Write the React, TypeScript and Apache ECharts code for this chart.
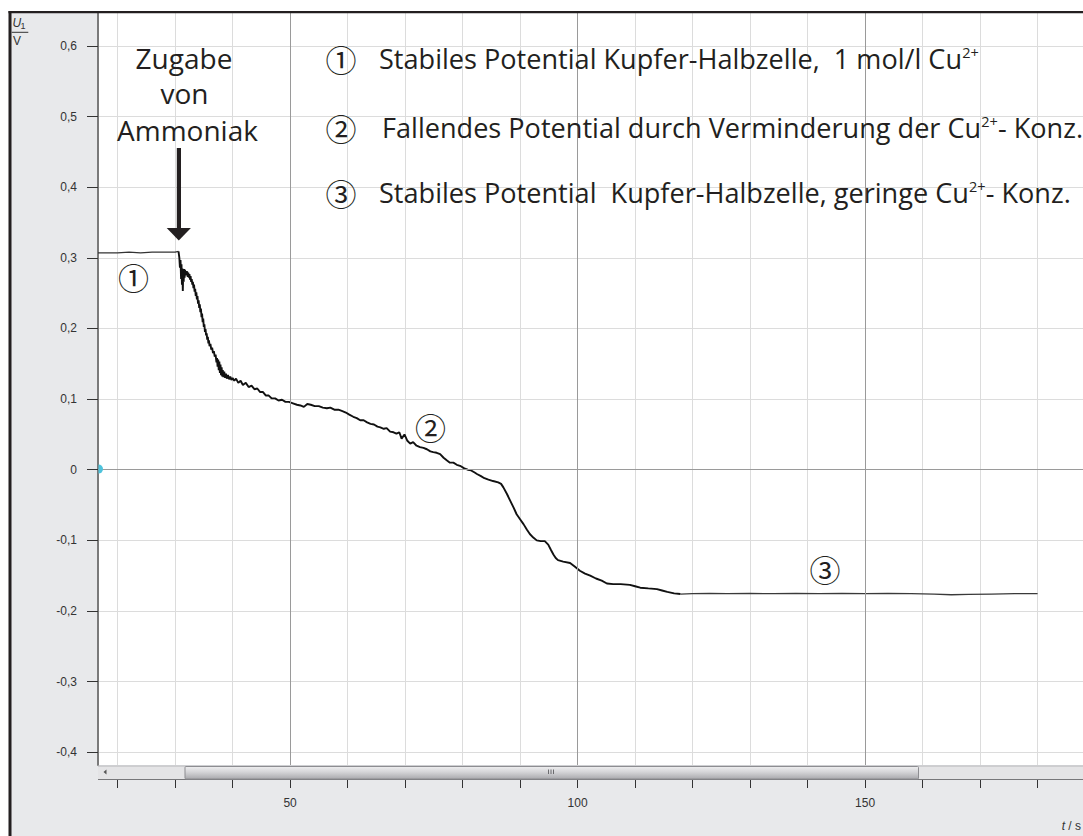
import React, { useEffect, useRef } from "react";
import * as echarts from "echarts";

// ---- axis ranges & ticks ----
const X_MIN = 16.6;
const X_MAX = 187.9;
const Y_MIN = -0.418;
const Y_MAX = 0.648;
const xTickValues = [20, 30, 40, 50, 60, 70, 80, 90, 100, 110, 120, 130, 140, 150, 160, 170, 180];
const xLabelValues = [50, 100, 150];
const yTickValues = [-0.4, -0.3, -0.2, -0.1, 0, 0.1, 0.2, 0.3, 0.4, 0.5, 0.6];
const majorX = [50, 100, 150];
const majorY = [0];

// ---- measured data: t / s, U1 / V ----
const stablePhase: [number, number][] = [
  [16.6, 0.307], [18, 0.307], [20, 0.307], [22, 0.308], [24, 0.307], [26, 0.308],
  [28, 0.308], [30, 0.308], [30.6, 0.309],
];
const fallingPhase: [number, number][] = [
  [30.75, 0.300], [30.85, 0.286], [30.95, 0.297], [31.05, 0.270], [31.12, 0.291], [31.2, 0.262],
  [31.28, 0.285], [31.35, 0.253], [31.42, 0.280], [31.5, 0.266], [31.58, 0.284], [31.66, 0.272],
  [31.74, 0.283], [31.82, 0.275], [31.9, 0.281], [32.0, 0.276], [32.1, 0.281], [32.2, 0.273],
  [32.3, 0.279], [32.4, 0.272], [32.5, 0.277], [32.6, 0.269], [32.7, 0.274], [32.8, 0.266],
  [32.9, 0.270], [33.0, 0.262], [33.1, 0.266], [33.2, 0.257], [33.3, 0.262], [33.4, 0.252],
  [33.5, 0.256], [33.6, 0.246], [33.7, 0.251], [33.8, 0.241], [33.9, 0.246], [34.0, 0.235],
  [34.1, 0.240], [34.2, 0.229], [34.3, 0.234], [34.4, 0.223], [34.5, 0.228], [34.6, 0.216],
  [34.7, 0.221], [34.8, 0.209], [34.9, 0.214], [35.0, 0.202], [35.1, 0.206], [35.2, 0.195],
  [35.3, 0.199], [35.4, 0.190], [35.5, 0.193], [35.6, 0.184], [35.7, 0.188], [35.8, 0.179],
  [35.9, 0.183], [36.0, 0.175], [36.15, 0.178], [36.3, 0.170], [36.45, 0.173], [36.6, 0.165],
  [36.75, 0.168], [36.9, 0.160], [37.05, 0.163], [37.2, 0.152], [37.3, 0.158], [37.4, 0.146],
  [37.5, 0.156], [37.6, 0.141], [37.7, 0.153], [37.8, 0.137], [37.9, 0.149], [38.0, 0.134],
  [38.1, 0.145], [38.2, 0.132], [38.3, 0.141], [38.4, 0.131], [38.55, 0.139], [38.7, 0.130],
  [38.85, 0.136], [39.0, 0.129], [39.2, 0.134], [39.4, 0.128], [39.6, 0.132], [39.8, 0.127],
  [40.0, 0.130], [40.3, 0.126], [40.6, 0.129], [41.0, 0.123], [41.4, 0.126], [41.8, 0.120],
  [42.3, 0.123], [42.8, 0.117], [43.3, 0.119], [43.8, 0.114], [44.3, 0.115], [44.8, 0.110],
  [45.3, 0.110], [45.8, 0.105], [46.3, 0.105], [46.8, 0.101], [47.4, 0.101], [48.0, 0.098],
  [48.6, 0.099], [49.2, 0.096], [49.8, 0.096], [50.5, 0.094], [51.2, 0.092], [51.8, 0.091],
  [52.4, 0.089], [53.0, 0.093], [53.6, 0.092], [54.3, 0.090], [55.0, 0.090], [55.7, 0.088],
  [56.4, 0.087], [57.0, 0.088], [57.7, 0.085], [58.4, 0.085], [59.1, 0.083], [59.7, 0.081],
  [60.3, 0.078], [61.0, 0.075], [61.6, 0.073], [62.2, 0.070], [62.8, 0.070], [63.4, 0.067],
  [64.0, 0.065], [64.6, 0.064], [65.2, 0.061], [65.7, 0.060], [66.3, 0.058], [66.8, 0.059],
  [67.4, 0.054], [68.0, 0.053], [68.5, 0.051], [69.0, 0.053], [69.4, 0.044], [69.9, 0.050],
  [70.4, 0.041], [70.9, 0.037], [71.4, 0.039], [72.0, 0.034], [72.6, 0.032], [73.2, 0.031],
  [73.8, 0.029], [74.4, 0.026], [74.9, 0.025], [75.5, 0.024], [76.1, 0.022], [76.7, 0.017],
  [77.3, 0.013], [77.8, 0.010], [78.4, 0.010], [79.0, 0.007], [79.7, 0.005], [80.3, 0.002],
  [80.9, 0.000], [81.5, -0.001], [82.1, -0.004], [82.5, -0.006], [83.2, -0.009], [83.8, -0.012],
  [84.5, -0.014], [85.3, -0.016], [86.2, -0.018], [86.7, -0.020], [87.1, -0.025], [87.7, -0.034],
  [88.3, -0.044], [88.9, -0.054], [89.4, -0.063], [90.0, -0.070], [90.6, -0.077], [91.2, -0.085],
  [91.7, -0.091], [92.3, -0.096], [92.9, -0.100], [93.6, -0.101], [94.3, -0.101], [94.9, -0.106],
  [95.4, -0.114], [95.8, -0.120], [96.2, -0.125], [96.6, -0.128], [97.5, -0.130], [98.7, -0.132],
  [99.5, -0.137], [100.4, -0.143], [101.3, -0.147], [102.2, -0.150], [103.2, -0.154], [104.2, -0.157],
  [105.1, -0.161], [106.2, -0.162], [107.5, -0.162], [109.1, -0.163], [110.0, -0.165], [110.9, -0.167],
  [112.3, -0.168], [113.8, -0.169], [114.7, -0.171], [115.6, -0.173], [116.8, -0.175], [117.9, -0.176],
];
const lowPhase: [number, number][] = [
  [120, -0.1755], [123, -0.175], [126, -0.1755], [130, -0.175], [134, -0.1755], [138, -0.175],
  [142, -0.1755], [146, -0.175], [150, -0.1755], [154, -0.175], [158, -0.1755], [162, -0.176],
  [165, -0.177], [168, -0.1765], [172, -0.176], [176, -0.1755], [180, -0.1755],
];

// ---- texts ----
const arrowLabel = ["Zugabe", "von", "Ammoniak"];
const legendNumbers = ["①", "②", "③"];
const legendLines = [
  ["Stabiles Potential Kupfer-Halbzelle,  1 mol/l Cu", "2+", ""],
  ["Fallendes Potential durch Verminderung der Cu", "2+", "- Konz."],
  ["Stabiles Potential  Kupfer-Halbzelle, geringe Cu", "2+", "- Konz."],
];

const FONT = "'Open Sans', 'Noto Sans', sans-serif";
const CIRC = "'Noto Sans CJK JP', 'DejaVu Sans', sans-serif";
const AXFONT = "'Liberation Sans', Arial, sans-serif";
const INK = "#231f20";

function fmtY(v: number) {
  if (Math.abs(v) < 1e-9) return "0";
  return v.toFixed(1).replace(".", ",");
}

export default function App() {
  const ref = useRef<HTMLDivElement>(null);

  useEffect(() => {
    if (!ref.current) return;
    const chart = echarts.init(ref.current, undefined, { renderer: "svg" });

    const legendY = [58.5, 127, 192];
    const legendX = [379, 382, 379];
    const arrowLabelPos = [
      [184, 57.5],
      [184.5, 93],
      [187.5, 130],
    ];
    const curveNumPos = [
      [133.5, 276],
      [430.5, 426],
      [825, 568],
    ];

    const graphics: any[] = [
      // grey panel
      { type: "rect", z: -10, silent: true, shape: { x: 10, y: 12, width: 88, height: 824 }, style: { fill: "#e8e9eb" } },
      { type: "rect", z: -10, silent: true, shape: { x: 98, y: 765, width: 985, height: 71 }, style: { fill: "#e8e9eb" } },
      // frame
      { type: "rect", z: 30, silent: true, shape: { x: 8.5, y: 11, width: 3, height: 825 }, style: { fill: "#231f20" } },
      { type: "rect", z: 30, silent: true, shape: { x: 8.5, y: 11, width: 1075, height: 2.2 }, style: { fill: "#231f20" } },
      // scrollbar track
      { type: "rect", z: 5, silent: true, shape: { x: 98, y: 766, width: 985, height: 13 }, style: { fill: "#e4e4e6" } },
      { type: "line", z: 6, silent: true, shape: { x1: 98, y1: 766, x2: 1083, y2: 766 }, style: { stroke: "#b5b5b8", lineWidth: 1 } },
      { type: "line", z: 6, silent: true, shape: { x1: 98, y1: 779.5, x2: 1083, y2: 779.5 }, style: { stroke: "#77777a", lineWidth: 1.2 } },
      // thumb
      {
        type: "rect", z: 7, silent: true,
        shape: { x: 185, y: 766.5, width: 733.5, height: 12.5, r: 1 },
        style: {
          fill: {
            type: "linear", x: 0, y: 0, x2: 0, y2: 1,
            colorStops: [
              { offset: 0, color: "#efeff0" },
              { offset: 0.45, color: "#d4d4d7" },
              { offset: 1, color: "#a9a9ad" },
            ],
          },
          stroke: "#8d8d91", lineWidth: 1,
        },
      },
      { type: "line", z: 8, silent: true, shape: { x1: 548.5, y1: 769.5, x2: 548.5, y2: 774 }, style: { stroke: "#6b6b6e", lineWidth: 1 } },
      { type: "line", z: 8, silent: true, shape: { x1: 551, y1: 769.5, x2: 551, y2: 774 }, style: { stroke: "#6b6b6e", lineWidth: 1 } },
      { type: "line", z: 8, silent: true, shape: { x1: 553.5, y1: 769.5, x2: 553.5, y2: 774 }, style: { stroke: "#6b6b6e", lineWidth: 1 } },
      { type: "polygon", z: 8, silent: true, shape: { points: [[106.5, 769.5], [106.5, 774.5], [103.5, 772]] }, style: { fill: "#555" } },
      // cyan zero marker
      { type: "sector", z: 20, silent: true, shape: { cx: 98.5, cy: 469, r0: 0, r: 4.5, startAngle: -Math.PI / 2, endAngle: Math.PI / 2 }, style: { fill: "#4ec3dc" } },
      // y axis name U1 / V
      { type: "text", z: 20, silent: true, x: 12.5, y: 23, style: { text: "U", font: `italic 12px ${AXFONT}`, fill: "#333", verticalAlign: "middle", align: "left" } },
      { type: "text", z: 20, silent: true, x: 20.5, y: 26, style: { text: "1", font: `9px ${AXFONT}`, fill: "#333", verticalAlign: "middle", align: "left" } },
      { type: "line", z: 20, silent: true, shape: { x1: 11.7, y1: 32.3, x2: 28.3, y2: 32.3 }, style: { stroke: "#333", lineWidth: 1 } },
      { type: "text", z: 20, silent: true, x: 13, y: 41, style: { text: "V", font: `12px ${AXFONT}`, fill: "#333", verticalAlign: "middle", align: "left" } },
      // x axis name t / s
      {
        type: "text", z: 20, silent: true, x: 1081, y: 826,
        style: {
          text: "{i|t} / s", fill: "#333", verticalAlign: "middle", align: "right",
          font: `12px ${AXFONT}`,
          rich: { i: { fontStyle: "italic", fontSize: 12, fontFamily: AXFONT, fill: "#333" } },
        },
      },
      // arrow
      { type: "rect", z: 20, silent: true, shape: { x: 176.8, y: 148, width: 4.2, height: 81 }, style: { fill: INK } },
      { type: "polygon", z: 20, silent: true, shape: { points: [[166.7, 228], [190.9, 228], [178.8, 240.5]] }, style: { fill: INK } },
    ];

    arrowLabel.forEach((s, i) => {
      graphics.push({
        type: "text", z: 20, silent: true, x: arrowLabelPos[i][0], y: arrowLabelPos[i][1],
        style: { text: s, fontFamily: FONT, fontSize: 28, fill: INK, align: "center", verticalAlign: "middle" },
      });
    });

    legendNumbers.forEach((n, i) => {
      graphics.push({
        type: "text", z: 20, silent: true, x: 341, y: legendY[i],
        style: { text: n, fontFamily: CIRC, fontSize: 31, fill: INK, align: "center", verticalAlign: "middle" },
      });
      graphics.push({
        type: "text", z: 20, silent: true, x: curveNumPos[i][0], y: curveNumPos[i][1],
        style: { text: n, fontFamily: CIRC, fontSize: 31, fill: INK, align: "center", verticalAlign: "middle" },
      });
      const [a, sup, b] = legendLines[i];
      graphics.push({
        type: "text", z: 20, silent: true, x: legendX[i], y: legendY[i], scaleX: 0.968,
        style: {
          text: `{a|${a}}{s|${sup}}` + (b ? `{a|${b}}` : ""),
          align: "left", verticalAlign: "middle", fill: INK,
          fontFamily: FONT, fontSize: 28,
          rich: {
            a: { fontFamily: FONT, fontSize: 28, fill: INK },
            s: { fontFamily: FONT, fontSize: 15, fill: INK, verticalAlign: "top" },
          },
        },
      });
    });

    const option: any = {
      animation: false,
      backgroundColor: "#ffffff",
      grid: { left: 98, top: 12, right: 0, bottom: 71, show: true, backgroundColor: "#ffffff", borderWidth: 0 },
      xAxis: {
        type: "value", min: X_MIN, max: X_MAX, position: "bottom", offset: 14,
        axisLine: { show: false, onZero: false },
        axisTick: { show: true, length: 9, customValues: xTickValues, lineStyle: { color: "#333", width: 1 } },
        axisLabel: { customValues: xLabelValues, margin: 18, color: "#333", fontSize: 12, fontFamily: AXFONT },
        splitLine: { show: true, lineStyle: { color: "#dcdcdc", width: 1 } },
      },
      yAxis: {
        type: "value", min: Y_MIN, max: Y_MAX, position: "left",
        axisLine: { show: true, onZero: false, lineStyle: { color: "#7a7a7a", width: 2 } },
        axisTick: { show: true, length: 11, customValues: yTickValues, lineStyle: { color: "#333", width: 1 } },
        axisLabel: { customValues: yTickValues, margin: 21, color: "#333", fontSize: 12, fontFamily: AXFONT, formatter: fmtY },
        splitLine: { show: true, lineStyle: { color: "#dcdcdc", width: 1 } },
      },
      series: [
        {
          type: "line", data: stablePhase, symbol: "none", silent: true,
          lineStyle: { color: "#333", width: 1.2 },
          markLine: {
            silent: true, symbol: "none", label: { show: false },
            lineStyle: { color: "#9a9a9a", width: 1, type: "solid" },
            emphasis: { disabled: true },
            data: [...majorX.map((v) => ({ xAxis: v })), ...majorY.map((v) => ({ yAxis: v }))],
          },
        },
        {
          type: "line", data: [stablePhase[stablePhase.length - 1], ...fallingPhase], symbol: "none", silent: true,
          lineStyle: { color: "#111", width: 1.9 },
        },
        {
          type: "line", data: [fallingPhase[fallingPhase.length - 1], ...lowPhase], symbol: "none", silent: true,
          lineStyle: { color: "#3a3a3a", width: 1.3 },
        },
      ],
      graphic: { elements: graphics },
    };

    chart.setOption(option);
    return () => chart.dispose();
  }, []);

  return (
    <div
      ref={ref}
      style={{ position: "absolute", left: 0, top: 0, width: 1083, height: 836 }}
    />
  );
}
